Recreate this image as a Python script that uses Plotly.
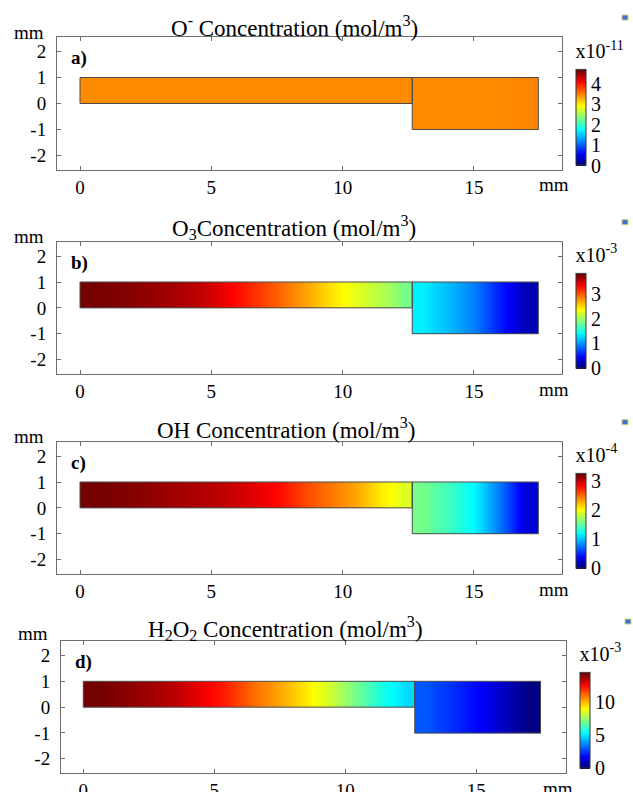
import plotly.graph_objects as go

W, H = 633, 792
FONT = "Liberation Serif, DejaVu Serif, serif"

# ---------------- geometry (mm) ----------------
chan_x_edges = [0, 1, 2, 3, 4, 5, 6, 7, 8, 9, 10, 11, 12, 12.65]
chan_y_edges = [0, 0.5, 1]
cham_x_edges = [12.65, 13.5, 14.5, 15.5, 16.5, 17.45]
cham_y_edges = [-1, 0, 1]

# ---------------- concentrations (cell values) ----------------
# a) O-  (x1e-11 mol/m3)
o_chan = [3.47, 3.47, 3.47, 3.47, 3.47, 3.47, 3.47, 3.47, 3.47, 3.47, 3.47, 3.47, 3.47]
o_cham = [3.47, 3.47, 3.47, 3.47, 3.50]
# b) O3  (x1e-3 mol/m3)
o3_chan = [3.76, 3.72, 3.67, 3.61, 3.53, 3.38, 3.17, 2.96, 2.74, 2.49, 2.28, 2.09, 1.86]
o3_cham = [1.37, 1.18, 0.95, 0.57, 0.23]
# c) OH  (x1e-4 mol/m3)
oh_chan = [3.22, 3.19, 3.15, 3.10, 3.06, 3.01, 2.93, 2.83, 2.63, 2.47, 2.31, 2.08, 1.92]
oh_cham = [1.59, 1.43, 1.20, 0.78, 0.29]
# d) H2O2 (x1e-3 mol/m3)
h2o2_chan = [14.36, 14.14, 13.85, 13.49, 12.9, 12.18, 11.17, 10.3, 9.35, 8.27, 6.96, 5.66, 4.9]
h2o2_cham = [3.05, 2.54, 1.89, 1.09, 0.29]

titles = [
    "O<sup>-</sup> Concentration (mol/m<sup>3</sup>)",
    "O<sub>3</sub>Concentration (mol/m<sup>3</sup>)",
    "OH Concentration (mol/m<sup>3</sup>)",
    "H<sub>2</sub>O<sub>2</sub> Concentration (mol/m<sup>3</sup>)",
]
panel_tags = ["a)", "b)", "c)", "d)"]
cb_exponents = ["x10<sup>-11</sup>", "x10<sup>-3</sup>", "x10<sup>-4</sup>", "x10<sup>-3</sup>"]
cb_max = [4.7, 3.8, 3.25, 14.5]
cb_ticks = [[0, 1, 2, 3, 4], [0, 1, 2, 3], [0, 1, 2, 3], [0, 5, 10]]
x_tick_vals = [0, 5, 10, 15]
y_tick_vals = [-2, -1, 0, 1, 2]
y_tick_text = ["-2", "-1", "0", "1", "2"]

chan_data = [o_chan, o3_chan, oh_chan, h2o2_chan]
cham_data = [o_cham, o3_cham, oh_cham, h2o2_cham]

jet = [[0, "rgb(0,0,110)"], [0.125, "rgb(0,0,255)"], [0.375, "rgb(0,255,255)"],
       [0.625, "rgb(255,255,0)"], [0.875, "rgb(255,0,0)"], [1, "rgb(105,0,0)"]]

# ---------------- layout in pixels ----------------
panels = [
    dict(top=37.0, bot=170.0, left=57.0, right=561.7, xr=[-0.876, 18.34], cbx=576, cbt=66.7, cbb=165.5,
         title_x=294, title_y=26, mm_dy=5),
    dict(top=241.7, bot=374.0, left=57.0, right=561.7, xr=[-0.876, 18.34], cbx=576, cbt=270, cbb=368.3,
         title_x=294, title_y=228, mm_dy=5),
    dict(top=441.7, bot=574.0, left=57.0, right=561.7, xr=[-0.876, 18.34], cbx=576, cbt=470, cbb=568.3,
         title_x=286, title_y=428, mm_dy=5),
    dict(top=641.0, bot=773.3, left=61.0, right=565.7, xr=[-0.85, 18.41], cbx=580, cbt=669.3, cbb=768.3,
         title_x=285, title_y=628, mm_dy=8),
]

def px(v):
    return v / W

def py(v):
    return 1 - v / H

fig = go.Figure()
layout = dict(width=W, height=H, margin=dict(l=0, r=0, t=0, b=0, autoexpand=False),
              paper_bgcolor="white", plot_bgcolor="white", showlegend=False,
              font=dict(family=FONT, size=18, color="black"))
annotations = []
shapes = []

for i, p in enumerate(panels):
    n = "" if i == 0 else str(i + 1)
    xa, ya, ca = "x" + n, "y" + n, "coloraxis" + n
    for xe, ye, vals in [(chan_x_edges, chan_y_edges, chan_data[i]),
                         (cham_x_edges, cham_y_edges, cham_data[i])]:
        fig.add_trace(go.Heatmap(x=xe, y=ye, z=[vals, vals], zsmooth="best",
                                 coloraxis=ca, xaxis=xa, yaxis=ya, hoverinfo="skip"))
    for xe, ye in [(chan_x_edges, chan_y_edges), (cham_x_edges, cham_y_edges)]:
        x0, x1, y0, y1 = xe[0], xe[-1], ye[0], ye[-1]
        fig.add_trace(go.Scatter(x=[x0, x1, x1, x0, x0], y=[y0, y0, y1, y1, y0],
                                 mode="lines", line=dict(color="#4a4a4a", width=1),
                                 xaxis=xa, yaxis=ya, hoverinfo="skip"))
    axcommon = dict(showgrid=False, zeroline=False, showline=True, linecolor="#6e6e6e",
                    linewidth=1, mirror="ticks", ticks="inside", ticklen=4, tickcolor="#6e6e6e",
                    tickfont=dict(family=FONT, size=19, color="black"), fixedrange=True,
                    automargin=False)
    layout["xaxis" + n] = dict(axcommon, domain=[px(p["left"]), px(p["right"])], range=p["xr"],
                               tickvals=x_tick_vals, anchor=ya)
    layout["yaxis" + n] = dict(axcommon, domain=[py(p["bot"]), py(p["top"])], range=[-2.56, 2.56],
                               tickvals=y_tick_vals, ticktext=y_tick_text, anchor=xa,
                               ticklabelstandoff=6)
    cblen = p["cbb"] - p["cbt"] + 26
    layout[ca] = dict(cmin=0, cmax=cb_max[i], colorscale=jet,
                      colorbar=dict(x=px(p["cbx"]), xanchor="left", xref="paper",
                                    y=py(p["cbb"]), yanchor="bottom",
                                    len=cblen, lenmode="pixels", thickness=10,
                                    outlinecolor="#333", outlinewidth=1,
                                    tickvals=cb_ticks[i], ticks="", ypad=0, xpad=0,
                                    tickfont=dict(family=FONT, size=20, color="black"),
                                    title=dict(text=cb_exponents[i], side="top",
                                               font=dict(family=FONT, size=20, color="black"))))
    # title
    annotations.append(dict(text=titles[i], x=px(p["title_x"]), y=py(p["title_y"]), xref="paper",
                            yref="paper", xanchor="center", yanchor="middle", showarrow=False,
                            font=dict(family=FONT, size=23, color="black")))
    # panel tag
    annotations.append(dict(text="<b>" + panel_tags[i] + "</b>", x=px(p["left"] + 12),
                            y=py(p["top"] + 21), xref="paper", yref="paper", xanchor="left",
                            yanchor="middle", showarrow=False,
                            font=dict(family=FONT, size=19, color="black")))
    # unit labels
    annotations.append(dict(text="mm", x=px(p["left"] - 28), y=py(p["top"] - p["mm_dy"]),
                            xref="paper", yref="paper", xanchor="center", yanchor="middle",
                            showarrow=False, font=dict(family=FONT, size=19, color="black")))
    annotations.append(dict(text="mm", x=px(p["right"] - 8), y=py(p["bot"] + 15), xref="paper",
                            yref="paper", xanchor="center", yanchor="middle", showarrow=False,
                            font=dict(family=FONT, size=19, color="black")))
    # small window icon
    shapes.append(dict(type="rect", xref="paper", yref="paper", x0=px(622 + (3 if i == 3 else 0)),
                       x1=px(628 + (3 if i == 3 else 0)), y0=py(p["top"] - 17), y1=py(p["top"] - 22),
                       fillcolor="#3f6fcf", line=dict(color="#c9d46a", width=1)))

layout["annotations"] = annotations
layout["shapes"] = shapes
fig.update_layout(**layout)
fig.write_html("out.html")
